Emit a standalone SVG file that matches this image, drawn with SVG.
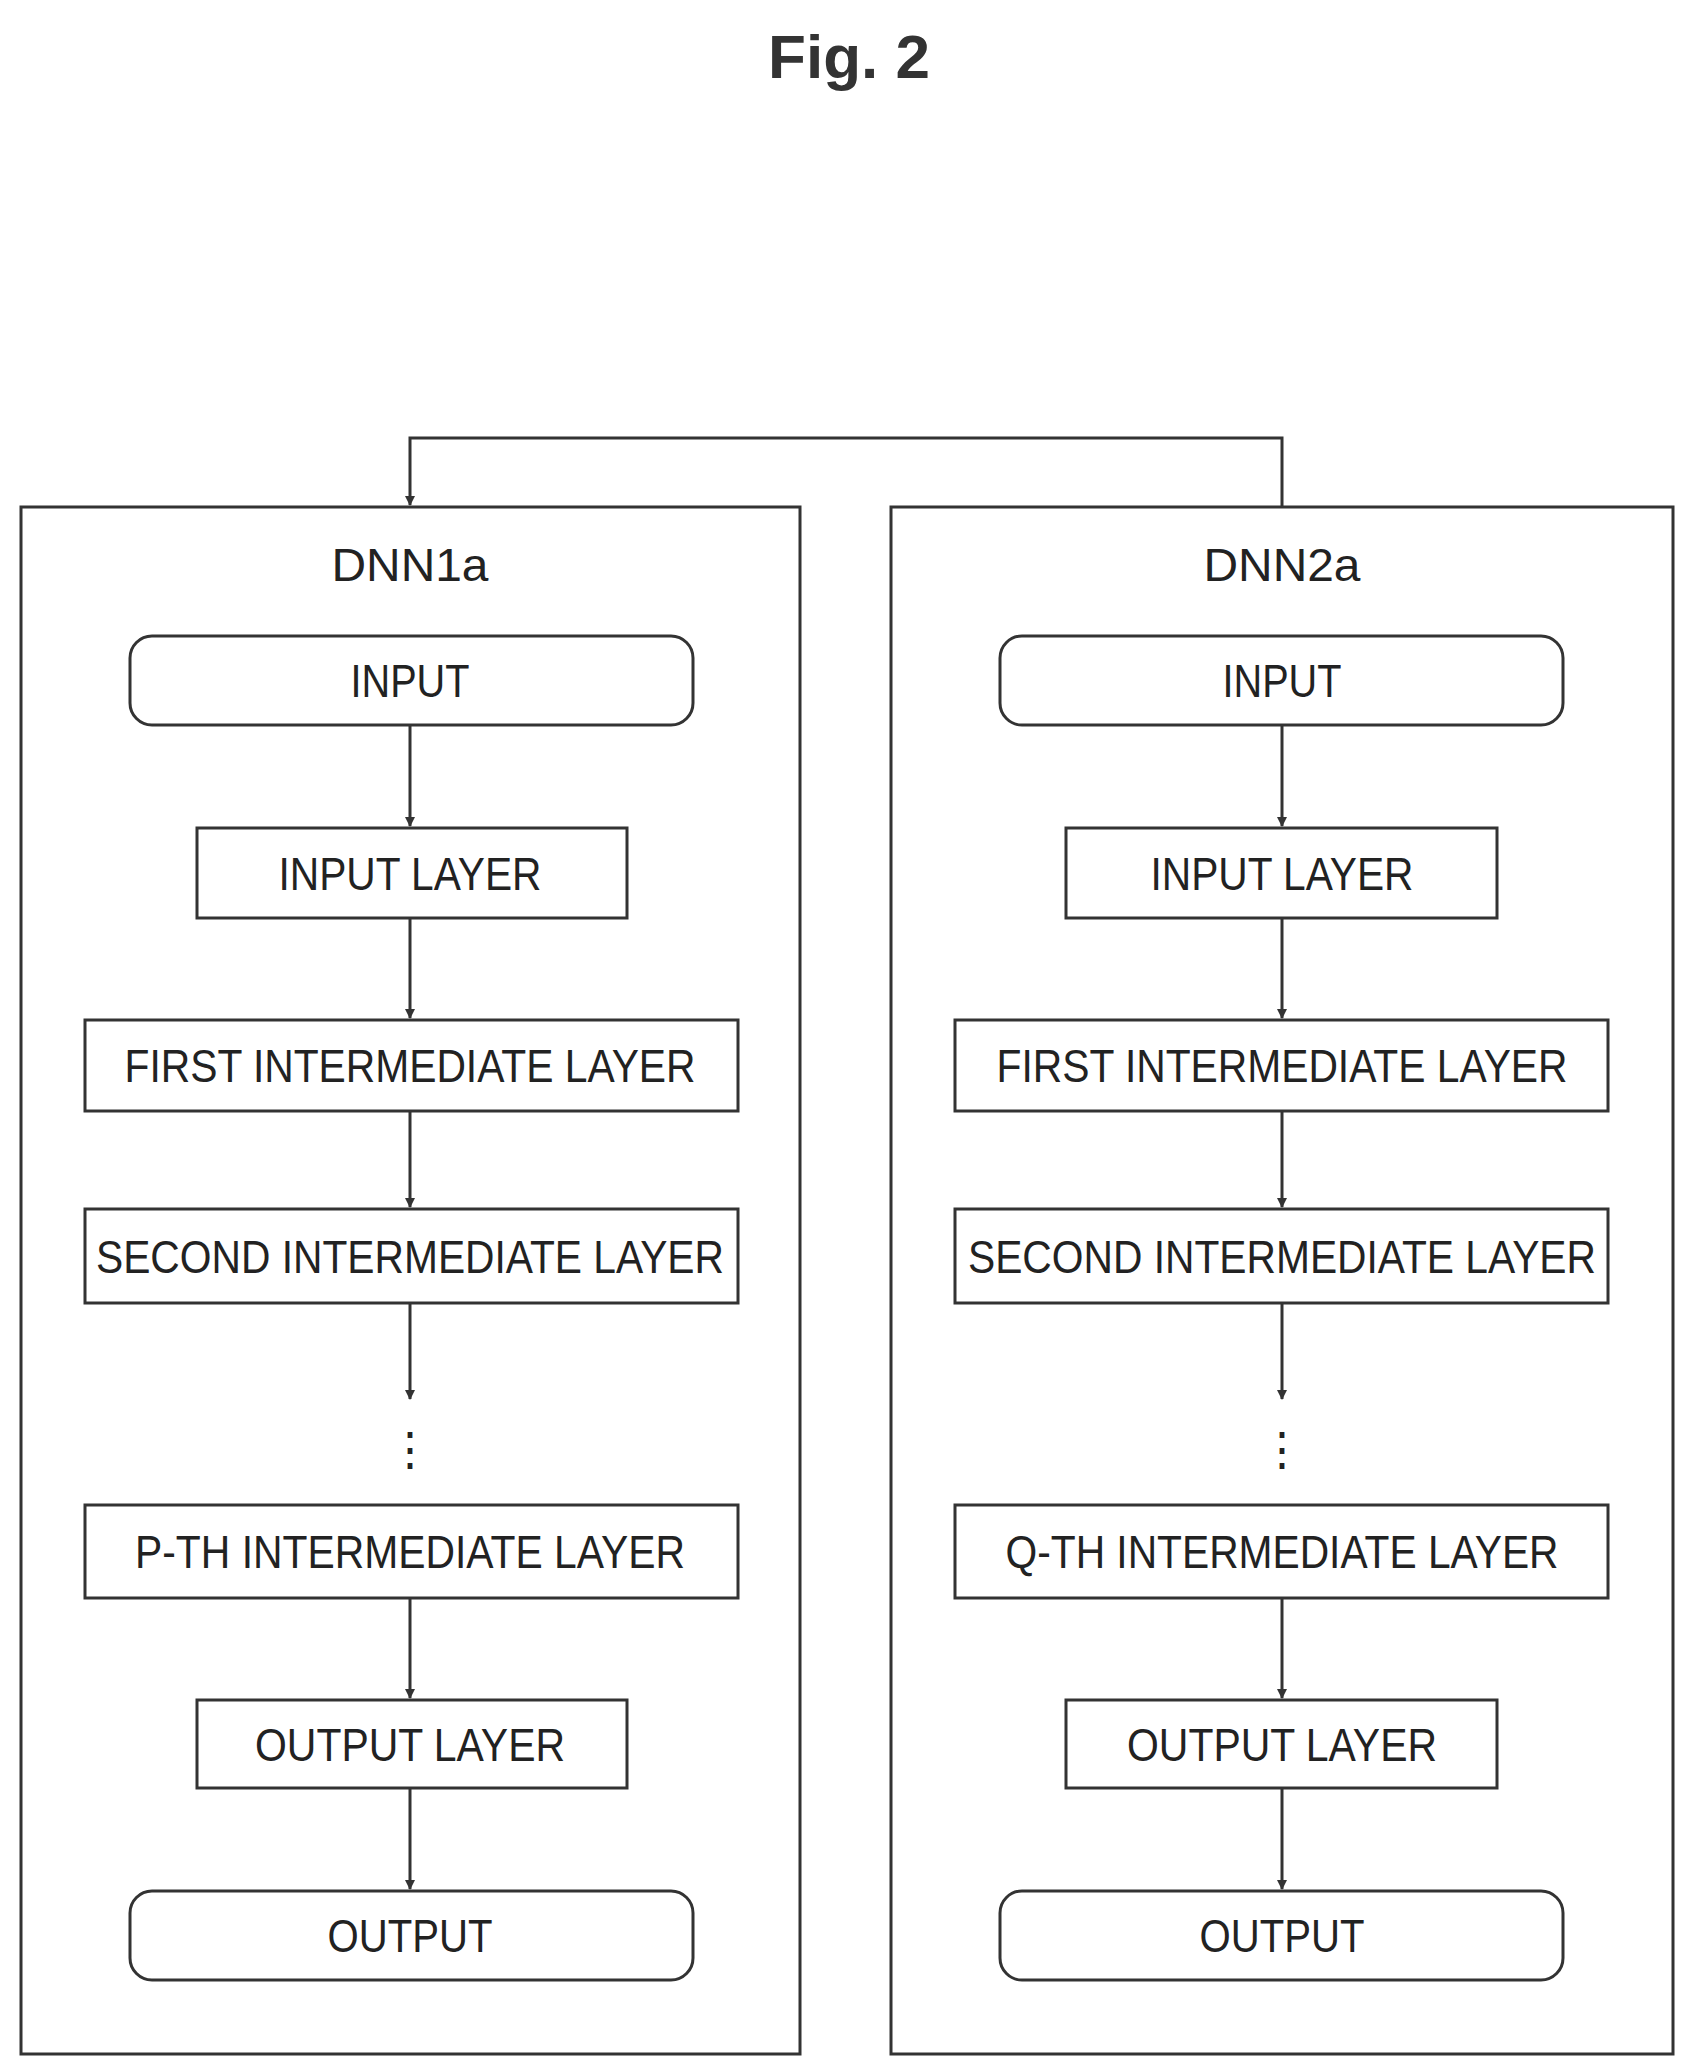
<svg xmlns="http://www.w3.org/2000/svg" width="1693" height="2071" viewBox="0 0 1693 2071">
<defs>
<style>
.b{fill:none;stroke:#333;stroke-width:3}
.t{font-family:"Liberation Sans",Arial,sans-serif;font-size:46px;fill:#222;text-anchor:middle}
.c{fill:none;stroke:#333;stroke-width:3}
</style>
<marker id="a" markerWidth="10" markerHeight="10" refX="9" refY="5" orient="auto" markerUnits="userSpaceOnUse" viewBox="0 0 10 10"><path d="M0,0 L10,5 L0,10 z" fill="#333"/></marker>
</defs>
<rect width="1693" height="2071" fill="#fff"/>
<text x="849" y="78" font-family="Liberation Sans,Arial,sans-serif" font-size="62" font-weight="bold" text-anchor="middle" fill="#333">Fig. 2</text>
<g id="connectors">
<path class="c" d="M1282,507 V438 H410 V505" marker-end="url(#a)"/>
<path class="c" d="M410,725 V826" marker-end="url(#a)"/>
<path class="c" d="M410,918 V1018" marker-end="url(#a)"/>
<path class="c" d="M410,1111 V1207" marker-end="url(#a)"/>
<path class="c" d="M410,1303 V1399" marker-end="url(#a)"/>
<path class="c" d="M410,1598 V1698" marker-end="url(#a)"/>
<path class="c" d="M410,1788 V1889" marker-end="url(#a)"/>
<path class="c" d="M1282,725 V826" marker-end="url(#a)"/>
<path class="c" d="M1282,918 V1018" marker-end="url(#a)"/>
<path class="c" d="M1282,1111 V1207" marker-end="url(#a)"/>
<path class="c" d="M1282,1303 V1399" marker-end="url(#a)"/>
<path class="c" d="M1282,1598 V1698" marker-end="url(#a)"/>
<path class="c" d="M1282,1788 V1889" marker-end="url(#a)"/>
</g>
<g id="dnn1a">
<rect class="b" x="21" y="507" width="779" height="1547"/>
<text class="t" x="410" y="581" textLength="157" lengthAdjust="spacingAndGlyphs">DNN1a</text>
</g>
<g id="dnn2a">
<rect class="b" x="891" y="507" width="782" height="1547"/>
<text class="t" x="1282" y="581" textLength="157" lengthAdjust="spacingAndGlyphs">DNN2a</text>
</g>
<g id="in1"><rect class="b" x="130" y="636" width="563" height="89" rx="22"/><text class="t" x="410" y="697" textLength="119" lengthAdjust="spacingAndGlyphs">INPUT</text></g>
<g id="il1"><rect class="b" x="197" y="828" width="430" height="90"/><text class="t" x="410" y="890" textLength="263" lengthAdjust="spacingAndGlyphs">INPUT LAYER</text></g>
<g id="f1"><rect class="b" x="85" y="1020" width="653" height="91"/><text class="t" x="410" y="1082" textLength="571" lengthAdjust="spacingAndGlyphs">FIRST INTERMEDIATE LAYER</text></g>
<g id="s1"><rect class="b" x="85" y="1209" width="653" height="94"/><text class="t" x="410" y="1273" textLength="628" lengthAdjust="spacingAndGlyphs">SECOND INTERMEDIATE LAYER</text></g>
<g id="d1"><text class="t" x="410" y="1465" font-size="30">⋮</text></g>
<g id="p1"><rect class="b" x="85" y="1505" width="653" height="93"/><text class="t" x="410" y="1568" textLength="550" lengthAdjust="spacingAndGlyphs">P-TH INTERMEDIATE LAYER</text></g>
<g id="ol1"><rect class="b" x="197" y="1700" width="430" height="88"/><text class="t" x="410" y="1761" textLength="310" lengthAdjust="spacingAndGlyphs">OUTPUT LAYER</text></g>
<g id="out1"><rect class="b" x="130" y="1891" width="563" height="89" rx="22"/><text class="t" x="410" y="1952" textLength="165" lengthAdjust="spacingAndGlyphs">OUTPUT</text></g>
<g id="in2"><rect class="b" x="1000" y="636" width="563" height="89" rx="22"/><text class="t" x="1282" y="697" textLength="119" lengthAdjust="spacingAndGlyphs">INPUT</text></g>
<g id="il2"><rect class="b" x="1066" y="828" width="431" height="90"/><text class="t" x="1282" y="890" textLength="263" lengthAdjust="spacingAndGlyphs">INPUT LAYER</text></g>
<g id="f2"><rect class="b" x="955" y="1020" width="653" height="91"/><text class="t" x="1282" y="1082" textLength="571" lengthAdjust="spacingAndGlyphs">FIRST INTERMEDIATE LAYER</text></g>
<g id="s2"><rect class="b" x="955" y="1209" width="653" height="94"/><text class="t" x="1282" y="1273" textLength="628" lengthAdjust="spacingAndGlyphs">SECOND INTERMEDIATE LAYER</text></g>
<g id="d2"><text class="t" x="1282" y="1465" font-size="30">⋮</text></g>
<g id="q2"><rect class="b" x="955" y="1505" width="653" height="93"/><text class="t" x="1282" y="1568" textLength="553" lengthAdjust="spacingAndGlyphs">Q-TH INTERMEDIATE LAYER</text></g>
<g id="ol2"><rect class="b" x="1066" y="1700" width="431" height="88"/><text class="t" x="1282" y="1761" textLength="310" lengthAdjust="spacingAndGlyphs">OUTPUT LAYER</text></g>
<g id="out2"><rect class="b" x="1000" y="1891" width="563" height="89" rx="22"/><text class="t" x="1282" y="1952" textLength="165" lengthAdjust="spacingAndGlyphs">OUTPUT</text></g>
</svg>
